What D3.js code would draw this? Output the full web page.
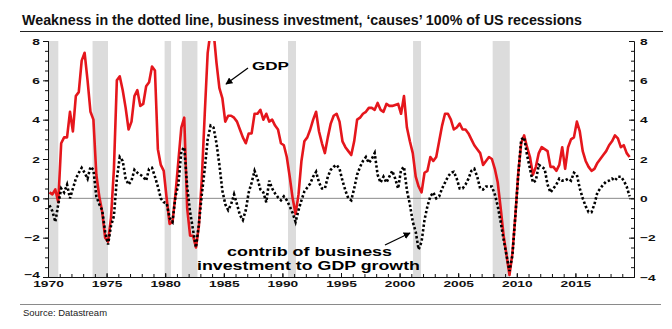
<!DOCTYPE html>
<html><head><meta charset="utf-8">
<script src="https://cdn.jsdelivr.net/npm/d3@7"></script>
<style>
body{margin:0;background:#fff;}
svg{display:block;font-family:"Liberation Sans",Arial,sans-serif;}
</style></head><body>
<svg id="c" width="672" height="329"></svg>
<script>
// ---------- data (quarterly, y/y %) ----------
const startYear = 1970; // first quarter 1970Q1
const gdpGrowth = [
 0.3,0.2,0.45,-0.2,  2.8,3.1,3.1,4.4,  3.4,5.2,5.4,7.0,  7.4,6.0,4.4,4.0,
 1.2,0.1,-0.7,-2.0,  -2.2,-1.0,1.5,6.0, 6.2,5.5,4.6,3.5,  3.9,5.2,5.5,4.7,
 4.8,5.7,5.9,6.7,    6.5,2.5,1.7,1.4,  0.0,-1.3,-1.2,0.2, 1.9,3.6,4.1,-0.5,
 -1.9,-1.9,-2.5,-1.4, 1.0,4.3,7.4,8.5, 8.5,6.9,5.6,5.1,  3.9,4.2,4.2,4.1,
 3.9,3.5,3.1,2.8,    3.3,3.3,4.3,4.3,  4.5,4.0,4.3,3.9,  4.0,3.7,3.5,2.8,
 2.7,2.1,1.1,0.0,    -0.8,0.2,1.9,2.9, 3.1,3.5,4.0,4.4,  3.4,2.8,2.3,3.1,
 3.8,4.2,4.3,3.9,    2.9,2.6,2.4,2.2,  2.9,4.0,4.1,4.3,  4.4,4.6,4.6,4.5,
 4.85,4.5,4.4,4.8,   4.7,4.7,4.75,4.8, 4.3,5.2,3.6,2.9,  2.3,1.1,0.6,0.3,
 1.3,1.4,2.1,1.9,    2.1,2.9,3.7,4.3,  4.3,4.0,3.5,3.6,  3.8,3.5,3.5,3.3,
 3.0,2.7,2.5,2.3,    1.7,1.9,2.1,2.0,  1.5,0.8,-0.5,-1.9, -2.9,-3.9,-2.8,-0.9,
 1.3,2.8,3.2,2.6,    2.1,1.2,1.6,2.3,  2.6,2.5,2.4,1.6,  1.6,1.4,1.7,2.6,
 1.5,2.6,3.0,3.1,    3.9,3.4,2.4,1.9,  1.6,1.4,1.5,1.8,  2.0,2.2,2.4,2.7,
 2.9,3.2,3.05,2.6,   2.7,2.3,2.1
];
const investContrib = [
 -0.35,-0.65,-1.2,-0.3, 0.5,0.3,0.7,0.0, 0.5,1.0,1.3,1.55, 1.3,1.0,1.6,1.45,
 0.1,-0.3,-0.6,-1.7,  -2.35,-1.4,-0.9,1.0, 2.1,1.9,1.0,0.7, 0.9,1.45,1.3,1.2,
 1.1,0.9,1.5,1.55,    1.1,0.6,0.0,-0.2, -0.25,-1.0,-1.2,0.1, 0.7,2.4,2.6,0.6,
 -0.7,-1.6,-2.5,-1.3, 0.2,1.5,3.0,3.7, 3.6,2.8,1.7,0.4, -0.3,-0.6,-0.3,0.2,
 -0.3,-0.85,-1.1,-0.6, 0.3,0.8,1.4,1.0, 0.45,0.3,-0.2,0.9, 0.5,0.25,0.05,-0.1,
 0.1,-0.1,-0.4,-0.75, -1.2,-0.6,-0.1,0.35, 0.55,0.75,1.1,1.35, 0.8,0.5,0.5,1.1,
 1.45,1.6,1.7,1.5,    0.9,0.4,0.0,-0.1, 0.5,1.2,1.6,1.9, 2.1,1.8,2.0,2.3,
 1.2,0.8,1.1,0.8,     1.1,1.4,1.0,0.5, 1.45,1.6,0.4,-0.3, -1.2,-1.7,-2.6,-2.2,
 -1.1,-0.4,0.1,0.3,   0.0,0.1,0.5,0.8, 1.1,1.3,1.35,1.0, 0.5,0.5,0.7,1.0,
 1.4,1.5,1.1,0.5,     0.45,0.6,0.6,0.6, 0.2,-0.4,-1.2,-2.1, -2.9,-3.7,-2.9,-0.9,
 1.2,3.0,3.1,2.2,     1.5,0.8,0.9,1.7, 1.6,1.5,0.7,0.3, 0.5,0.7,1.0,0.9,
 0.9,1.0,0.9,1.3,     1.2,0.5,0.0,-0.4, -0.7,-0.7,-0.3,0.3, 0.5,0.7,0.85,0.9,
 1.0,0.9,1.1,1.1,     0.9,0.6,0.1
];
const recessionStart = [1969.92, 1973.8, 1979.95, 1981.42, 1990.48, 2001.15, 2007.94];
const recessionEnd   = [1970.88, 1975.12, 1980.5, 1982.75, 1991.16, 2001.83, 2009.4];
const yTickLabels = [-4,-2,0,2,4,6,8];
const xTickLabels = [1970,1975,1980,1985,1990,1995,2000,2005,2010,2015];

const titleText = "Weakness in the dotted line, business investment, \u2018causes\u2019 100% of US recessions";
const sourceText = "Source: Datastream";

// ---------- layout ----------
const svg = d3.select("#c");
const L = 48, R = 634, T = 41, B = 277;
const x = d3.scaleLinear().domain([1970, 2020]).range([L, R]);
const y = d3.scaleLinear().domain([-4, 8]).range([B, T]);
const qx = i => startYear + i * 0.25 + 0.125;
const red = "#e5161c";
const stretch = 1.45;

// title
svg.append("text").attr("x", 22).attr("y", 25)
  .attr("font-size", 15.5).attr("font-weight", "bold").attr("fill", "#111")
  .attr("textLength", 560).attr("lengthAdjust", "spacingAndGlyphs")
  .text(titleText);
svg.append("line").attr("x1", 20).attr("x2", 663).attr("y1", 31.5).attr("y2", 31.5)
  .attr("stroke", "#222").attr("stroke-width", 1);

// clip
svg.append("clipPath").attr("id", "plot").append("rect")
  .attr("x", L).attr("y", T).attr("width", R - L).attr("height", B - T);

// recession bands
svg.append("g").attr("clip-path", "url(#plot)")
  .selectAll("rect").data(recessionStart).join("rect")
  .attr("x", (d) => x(d))
  .attr("width", (d, i) => x(recessionEnd[i]) - x(d))
  .attr("y", T).attr("height", B - T)
  .attr("fill", "#dcdcdc");

// zero line
svg.append("line").attr("x1", L).attr("x2", R).attr("y1", y(0)).attr("y2", y(0))
  .attr("stroke", "#8a8a8a").attr("stroke-width", 1);

// axes
function styleAxis(g) {
  g.select(".domain").attr("stroke", "#111").attr("stroke-width", 1);
  g.selectAll(".tick line").attr("stroke", "#111");
  g.selectAll("text").attr("font-size", 9.5).attr("font-weight", "bold")
    .attr("fill", "#111").attr("font-family", '"Liberation Sans",Arial,sans-serif');
}
const minorY = d3.range(-4, 8.001, 0.5);
// left
svg.append("g").attr("transform", `translate(${L},0)`)
  .call(d3.axisLeft(y).tickValues(minorY).tickSize(3).tickFormat(""))
  .call(styleAxis);
const la = svg.append("g").attr("transform", `translate(${L},0)`)
  .call(d3.axisLeft(y).tickValues(yTickLabels).tickSize(5).tickSizeOuter(0).tickPadding(3).tickFormat(d3.format("d")))
  .call(styleAxis);
la.selectAll("text").attr("x", -8 / stretch).attr("transform", `scale(${stretch},1)`);
la.selectAll(".tick").filter(d => d === -4).select("text").attr("dy", "0.1em");
// right (ticks point inward)
svg.append("g").attr("transform", `translate(${R},0)`)
  .call(d3.axisRight(y).tickValues(minorY).tickSizeInner(-3).tickSizeOuter(0).tickFormat(""))
  .call(styleAxis);
const ra = svg.append("g").attr("transform", `translate(${R},0)`)
  .call(d3.axisRight(y).tickValues(yTickLabels).tickSizeInner(-5).tickSizeOuter(0).tickPadding(5).tickFormat(d3.format("d")))
  .call(styleAxis);
ra.selectAll("text").attr("x", 6 / stretch).attr("transform", `scale(${stretch},1)`);
// bottom
svg.append("g").attr("transform", `translate(0,${B})`)
  .call(d3.axisBottom(x).tickValues(d3.range(1970, 2020.001, 1)).tickSizeInner(-3).tickSizeOuter(0).tickFormat(""))
  .call(styleAxis);
const ba = svg.append("g").attr("transform", `translate(0,${B})`)
  .call(d3.axisBottom(x).tickValues(xTickLabels).tickSizeInner(-4).tickSizeOuter(0).tickPadding(3.5).tickFormat(d3.format("d")))
  .call(styleAxis);
ba.selectAll("text").attr("transform", `scale(${stretch},1)`);

// lines
const lineGen = d3.line().x((d, i) => x(qx(i))).y(d => y(d));
const plot = svg.append("g").attr("clip-path", "url(#plot)");
plot.append("path").datum(gdpGrowth).attr("d", lineGen)
  .attr("fill", "none").attr("stroke", red).attr("stroke-width", 2.6)
  .attr("stroke-linejoin", "round");
plot.append("path").datum(investContrib).attr("d", lineGen)
  .attr("fill", "none").attr("stroke", "#000").attr("stroke-width", 2.6)
  .attr("stroke-dasharray", "2.4,2.2");

// annotations
const defs = svg.append("defs");
defs.append("marker").attr("id", "arr").attr("viewBox", "0 0 10 10")
  .attr("refX", 9).attr("refY", 5).attr("markerWidth", 7).attr("markerHeight", 7)
  .attr("markerUnits", "userSpaceOnUse").attr("orient", "auto")
  .append("path").attr("d", "M0,0 L10,5 L0,10 z").attr("fill", "#000");

svg.append("text").attr("x", 252).attr("y", 70).attr("font-size", 11.5)
  .attr("font-weight", "bold").attr("fill", "#000")
  .attr("textLength", 37).attr("lengthAdjust", "spacingAndGlyphs").text("GDP");
svg.append("line").attr("x1", 248).attr("y1", 68).attr("x2", 226).attr("y2", 84)
  .attr("stroke", "#000").attr("stroke-width", 1.3).attr("marker-end", "url(#arr)");

svg.append("text").attr("x", 227).attr("y", 255.5).attr("font-size", 12)
  .attr("font-weight", "bold").attr("fill", "#000")
  .attr("textLength", 165).attr("lengthAdjust", "spacingAndGlyphs").text("contrib of business");
svg.append("text").attr("x", 197).attr("y", 269.5).attr("font-size", 12)
  .attr("font-weight", "bold").attr("fill", "#000")
  .attr("textLength", 223).attr("lengthAdjust", "spacingAndGlyphs").text("investment to GDP growth");
svg.append("line").attr("x1", 385).attr("y1", 245).attr("x2", 410).attr("y2", 233)
  .attr("stroke", "#000").attr("stroke-width", 1.3).attr("marker-end", "url(#arr)");

// footer
svg.append("line").attr("x1", 20).attr("x2", 661).attr("y1", 304.5).attr("y2", 304.5)
  .attr("stroke", "#8a8a8a").attr("stroke-width", 1);
svg.append("text").attr("x", 23).attr("y", 316).attr("font-size", 9.5).attr("fill", "#222")
  .attr("textLength", 84).attr("lengthAdjust", "spacingAndGlyphs").text(sourceText);
</script>
</body></html>
